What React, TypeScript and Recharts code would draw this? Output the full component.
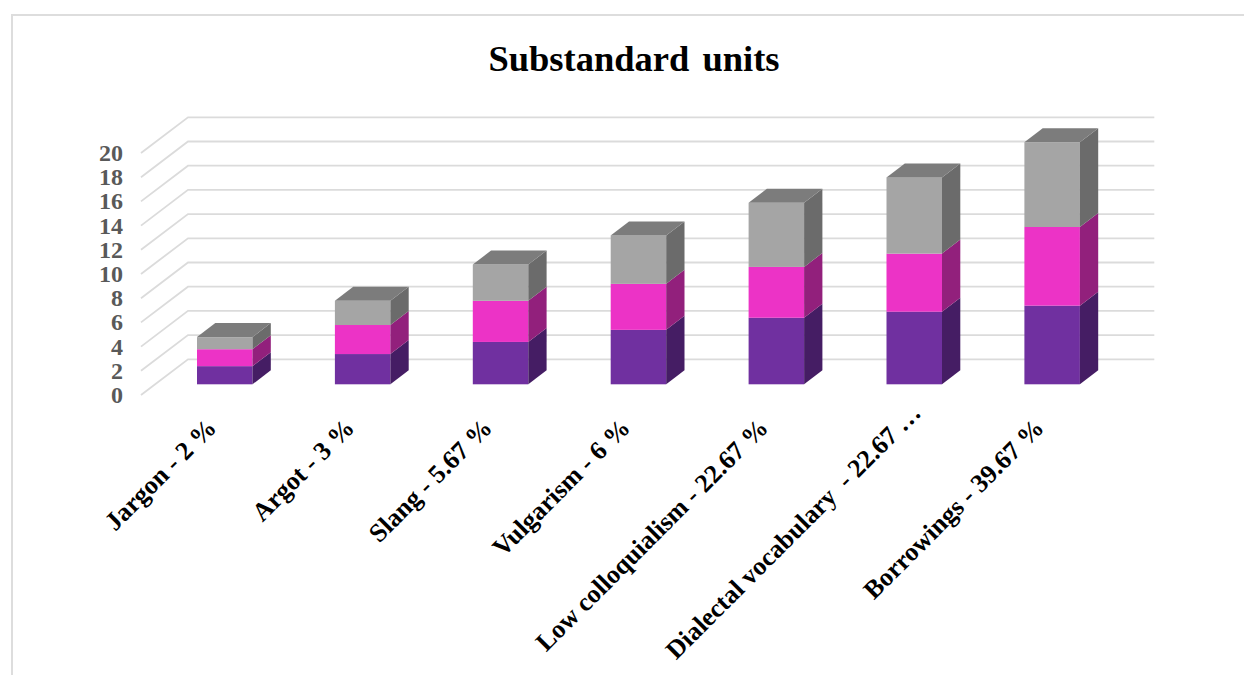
import React from "react";
import { BarChart, Bar, XAxis, YAxis, CartesianGrid } from "recharts";

const categories = [
  "Jargon - 2 %",
  "Argot - 3 %",
  "Slang - 5.67 %",
  "Vulgarism - 6 %",
  "Low colloquialism - 22.67 %",
  "Dialectal vocabulary\u00A0\u00A0- 22.67 …",
  "Borrowings - 39.67 %",
];
const lowerValues = [1.5, 2.5, 3.5, 4.5, 5.5, 6, 6.5];
const middleValues = [1.4, 2.4, 3.4, 3.8, 4.2, 4.8, 6.5];
const upperValues = [1, 2, 3, 4, 5.3, 6.3, 7];
const yTicks = [0, 2, 4, 6, 8, 10, 12, 14, 16, 18, 20];

const rows = categories.map((name, i) => ({
  name,
  lower: lowerValues[i],
  middle: middleValues[i],
  upper: upperValues[i],
}));

// Oblique projection of the bars' depth.
const SIDE_DX = 18.3;
const SIDE_DY = 14;

type Faces = { fill: string; side: string; top?: string };

const prism = (faces: Faces) => (props: any) => {
  const { x, y, width, height } = props;
  const r = x + width;
  const b = y + height;
  return (
    <g>
      <rect x={x} y={y} width={width} height={height} fill={faces.fill} />
      <polygon
        points={`${r},${y} ${r + SIDE_DX},${y - SIDE_DY} ${r + SIDE_DX},${b - SIDE_DY} ${r},${b}`}
        fill={faces.side}
      />
      {faces.top && (
        <polygon
          points={`${x},${y} ${x + SIDE_DX},${y - SIDE_DY} ${r + SIDE_DX},${y - SIDE_DY} ${r},${y}`}
          fill={faces.top}
        />
      )}
    </g>
  );
};

// Wall and floor edge of each value level, running from the front corner to the back wall.
const gridLevel = (props: any) => {
  const { x1, x2, y1 } = props;
  return (
    <polyline
      key={`level-${y1}`}
      points={`${x1 - 15},${y1 + 10.7} ${x1 + 32},${y1 - 25} ${x2 + 33},${y1 - 25}`}
      fill="none"
      stroke="#DBDBDB"
      strokeWidth={1.8}
    />
  );
};

const ValueTick = (props: any) => {
  const { y, payload } = props;
  return (
    <text
      x={123}
      y={y + 10.7}
      textAnchor="end"
      dominantBaseline="central"
      fontFamily="'Liberation Serif', serif"
      fontWeight={700}
      fontSize={24}
      fill="#595959"
    >
      {payload.value}
    </text>
  );
};

const CategoryTick = (props: any) => {
  const { x, y, payload } = props;
  // A shortened label sits further along its diagonal, clear of the page bottom.
  const slide = String(payload.value).endsWith("…") ? 15 : 0;
  const ax = x - 7 + slide;
  const ay = y + 37 - slide;
  return (
    <text
      x={ax}
      y={ay}
      textAnchor="end"
      transform={`rotate(-45 ${ax} ${ay})`}
      fontFamily="'Liberation Serif', serif"
      fontWeight={700}
      fontSize={26}
      fill="#000000"
    >
      {payload.value}
    </text>
  );
};

export default function App() {
  return (
    <div style={{ position: "absolute", left: 0, top: 0, width: 1244, height: 675, overflow: "hidden", background: "#fff" }}>
      {/* Chart frame: only its top and left edges fall inside the page */}
      <div
        style={{
          position: "absolute",
          left: 11,
          top: 14,
          width: 1300,
          height: 700,
          boxSizing: "border-box",
          border: "2px solid #DDDDDD",
        }}
      />
      <div
        style={{
          position: "absolute",
          left: 0,
          width: 1268,
          top: 39,
          textAlign: "center",
          fontFamily: "'Liberation Serif', serif",
          fontWeight: 700,
          fontSize: 36.5,
          wordSpacing: 4,
          color: "#000",
          lineHeight: "40px",
        }}
      >
        Substandard units
      </div>
      <div style={{ position: "absolute", left: 0, top: 0 }}>
        <BarChart
          width={1244}
          height={675}
          data={rows}
          margin={{ top: 142.3, right: 122.7, bottom: 90.7, left: 96 }}
          barSize={55.5}
          style={{ background: "transparent" }}
        >
          <CartesianGrid vertical={false} horizontal={gridLevel} />
          <XAxis dataKey="name" axisLine={false} tickLine={false} interval={0} height={200} tick={CategoryTick} />
          <YAxis
            domain={[0, 20]}
            ticks={yTicks}
            width={60}
            axisLine={false}
            tickLine={false}
            interval={0}
            tick={ValueTick}
          />
          <Bar dataKey="lower" stackId="a" isAnimationActive={false} shape={prism({ fill: "#7030A0", side: "#451D64" })} />
          <Bar dataKey="middle" stackId="a" isAnimationActive={false} shape={prism({ fill: "#EC33C6", side: "#92207C" })} />
          <Bar
            dataKey="upper"
            stackId="a"
            isAnimationActive={false}
            shape={prism({ fill: "#A5A5A5", side: "#6B6B6B", top: "#7C7C7C" })}
          />
        </BarChart>
      </div>
    </div>
  );
}
